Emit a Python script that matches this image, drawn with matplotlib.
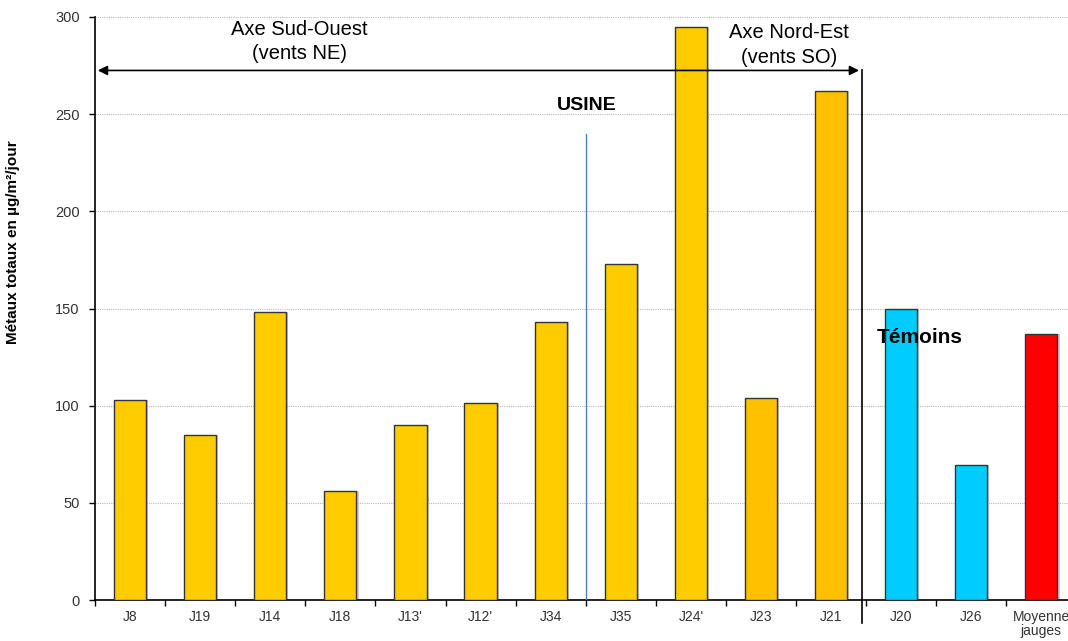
import matplotlib
matplotlib.use("Agg")
import matplotlib.pyplot as plt
import numpy as np
from matplotlib.ticker import FixedLocator

categories = ["J8", "J19", "J14", "J18", "J13'", "J12'", "J34", "J35", "J24'", "J23", "J21", "J20", "J26", "Moyenne\njauges"]
values = [103, 85, 148, 56, 90, 101.5, 143, 173, 295, 104, 262, 150, 69.5, 137]
colors = ["#FFCC00"] * 9 + ["#FFC000", "#FFC000"] + ["#00CCFF", "#00CCFF", "#FF0000"]
yticks = [0, 50, 100, 150, 200, 250, 300]

fig = plt.figure(figsize=(10.68, 6.41), dpi=100)
ax = fig.add_axes([95/1068, 41/641, (1068-95)/1068, (600-17)/641])

x = np.arange(len(categories))
# shadow
ax.bar(x + 0.03, values, width=0.46, color="#999999", alpha=0.5, zorder=2)
ax.bar(x, values, width=0.46, color=colors, edgecolor="#333333", linewidth=1.0, zorder=3)

ax.set_xlim(-0.5, 13.38)
ax.set_ylim(0, 300)
ax.set_yticks(yticks)
ax.set_yticklabels([str(v) for v in yticks], fontsize=10.5, color="#333333", family="Liberation Sans")
ax.grid(axis="y", color="#bbbbbb", linestyle=(0, (1, 1)), linewidth=0.8, zorder=0)
ax.set_xticks(x)
ax.set_xticklabels(categories, fontsize=10, color="#333333", family="Liberation Sans", linespacing=1.0)
ax.tick_params(axis="x", which="major", length=0, pad=7)
ax.xaxis.set_minor_locator(FixedLocator(np.arange(-0.5, 13.6, 1.0)))
ax.tick_params(axis="x", which="minor", length=4, direction="out", width=1)
ax.tick_params(axis="y", length=4, width=1, pad=7)
for s in ["top", "right"]:
    ax.spines[s].set_visible(False)
ax.spines["left"].set_linewidth(1.2)
ax.spines["bottom"].set_linewidth(1.2)

ax.set_ylabel("Métaux totaux en µg/m²/jour", fontsize=11, fontweight="bold", family="Liberation Sans")
ax.yaxis.set_label_coords(-0.077, 0.614)

# arrow
ax.annotate("", xy=(-0.5, 272.5), xytext=(10.44, 272.5),
            arrowprops=dict(arrowstyle="<|-|>", color="black", lw=1.2, mutation_scale=14), zorder=5)
ax.plot([10.44, 10.44], [-12, 272.5], color="black", lw=1.2, clip_on=False, zorder=5)
# usine line
ax.plot([6.5, 6.5], [0, 240], color="#4f81bd", lw=1.0, zorder=4)

ax.text(2.42, 293.5, "Axe Sud-Ouest", fontsize=14.5, ha="center", va="center", family="Liberation Sans")
ax.text(2.42, 281, "(vents NE)", fontsize=14.5, ha="center", va="center", family="Liberation Sans")
ax.text(9.4, 292, "Axe Nord-Est", fontsize=14.5, ha="center", va="center", family="Liberation Sans")
ax.text(9.4, 279, "(vents SO)", fontsize=14.5, ha="center", va="center", family="Liberation Sans")
ax.text(6.52, 254.5, "USINE", fontsize=14, fontweight="bold", ha="center", va="center", family="Liberation Sans")
ax.text(11.27, 135, "Témoins", fontsize=15, fontweight="bold", ha="center", va="center", family="Liberation Sans", zorder=6)

fig.savefig("out.png", dpi=100)
